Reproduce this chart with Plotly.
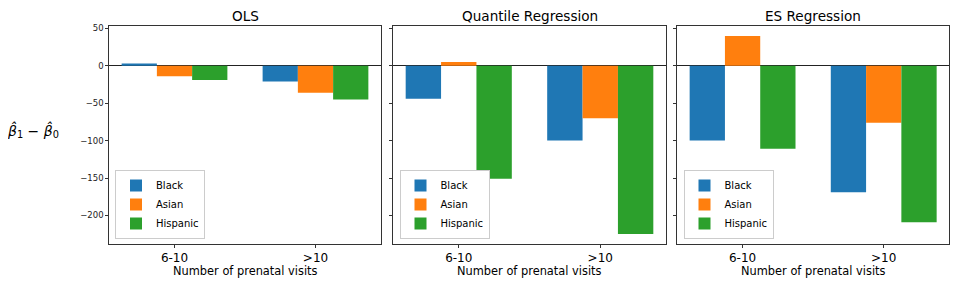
import plotly.graph_objects as go

categories = ["6-10", ">10"]
groups = ["Black", "Asian", "Hispanic"]
colors = ["#1f77b4", "#ff7f0e", "#2ca02c"]
panels = ["OLS", "Quantile Regression", "ES Regression"]
x_title = "Number of prenatal visits"

ols_black = [3, -21]
ols_asian = [-14, -36]
ols_hispanic = [-19, -45]

qr_black = [-44, -100]
qr_asian = [5, -70]
qr_hispanic = [-151, -225]

es_black = [-100, -169]
es_asian = [40, -76]
es_hispanic = [-111, -209]

panel_data = [
    [ols_black, ols_asian, ols_hispanic],
    [qr_black, qr_asian, qr_hispanic],
    [es_black, es_asian, es_hispanic],
]

# page body has an 8px default margin; work in page pixels and convert
OFF = 8
W, H = 959 - OFF, 288 - OFF


def px(x):
    return (x - OFF) / W


def py(y):
    return 1 - (y - OFF) / H


x_doms = [(px(109.3), px(380.7)), (px(393.3), px(665.7)), (px(677.3), px(949))]
y_dom = (py(244), py(26))
legend_x = [px(115), px(399.5), px(683.5)]

fig = go.Figure()
axis_color = "#333333"
for p, data in enumerate(panel_data):
    xa = "x" if p == 0 else f"x{p+1}"
    ya = "y" if p == 0 else f"y{p+1}"
    lg = "legend" if p == 0 else f"legend{p+1}"
    for g, vals in enumerate(data):
        fig.add_trace(go.Bar(
            x=categories, y=vals, name=groups[g],
            marker=dict(color=colors[g], line=dict(width=0)),
            xaxis=xa, yaxis=ya, legend=lg,
        ))
    xkey = "xaxis" if p == 0 else f"xaxis{p+1}"
    ykey = "yaxis" if p == 0 else f"yaxis{p+1}"
    fig.layout[xkey] = dict(
        domain=list(x_doms[p]), anchor=ya, type="category",
        range=[-0.4625, 1.4625], showgrid=False, zeroline=False,
        showline=True, mirror=True, linecolor=axis_color, linewidth=1,
        ticks="outside", ticklen=3, tickcolor=axis_color,
        tickfont=dict(size=12, color="black"), automargin=False,
    )
    fig.layout[ykey] = dict(
        domain=list(y_dom), anchor=xa, range=[-238.25, 53.25],
        matches=None if p == 0 else "y",
        tickvals=[50, 0, -50, -100, -150, -200],
        showgrid=False, zeroline=True, zerolinecolor="#222222", zerolinewidth=1,
        showline=True, mirror=True, linecolor=axis_color, linewidth=1,
        ticks="outside", ticklen=3, tickcolor=axis_color,
        showticklabels=(p == 0), tickfont=dict(size=8.5, color="#222222"),
        automargin=False,
    )
    fig.layout[lg] = dict(
        x=legend_x[p], y=py(239), xanchor="left", yanchor="bottom",
        bgcolor="white", bordercolor="#cccccc", borderwidth=1,
        font=dict(size=10, color="black"), itemwidth=30,
        tracegroupgap=0,
    )
    cx = (x_doms[p][0] + x_doms[p][1]) / 2
    fig.add_annotation(
        text=panels[p], x=cx, y=py(16),
        xref="paper", yref="paper", showarrow=False,
        font=dict(size=13.6, color="black"), xanchor="center", yanchor="middle",
    )
    fig.add_annotation(
        text=x_title, x=cx, y=py(271),
        xref="paper", yref="paper", showarrow=False,
        font=dict(size=11.4, color="black"), xanchor="center", yanchor="middle",
    )

fig.add_annotation(
    text="<i>β̂</i><sub>1</sub> − <i>β̂</i><sub>0</sub>",
    x=px(33), y=py(130), xref="paper", yref="paper", showarrow=False,
    font=dict(size=14, color="black"), xanchor="center", yanchor="middle",
)

fig.update_layout(
    width=W, height=H, barmode="group", bargap=0.25, bargroupgap=0,
    margin=dict(l=0, r=0, t=0, b=0, autoexpand=False),
    plot_bgcolor="white", paper_bgcolor="white",
    font=dict(family="DejaVu Sans", color="black"),
    showlegend=True,
)

fig.write_html("out.html")
